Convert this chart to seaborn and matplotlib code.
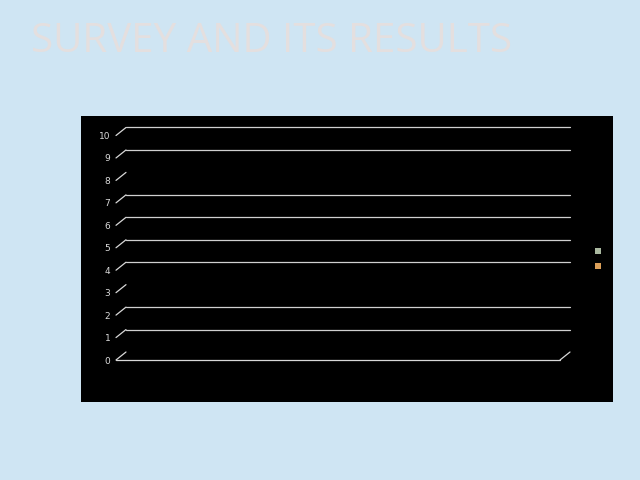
import numpy as np
import pandas as pd
import matplotlib
matplotlib.use("Agg")
import matplotlib.pyplot as plt
from matplotlib.patches import Rectangle
import seaborn as sns

# chart data (the slide's chart holds no values)
categories = ["Category 1", "Category 2", "Category 3"]
series_names = ["Series 1", "Series 2"]
series_1 = [0, 0, 0]
series_2 = [0, 0, 0]
y_ticks = [0, 1, 2, 3, 4, 5, 6, 7, 8, 9, 10]
visible_grid = [1, 2, 4, 5, 6, 7, 9, 10]

title = "SURVEY AND ITS RESULTS"
series_colors = ["#a9bd9c", "#f0a044"]

df = pd.DataFrame({
    "category": categories * 2,
    "series": [series_names[0]] * len(categories) + [series_names[1]] * len(categories),
    "value": series_1 + series_2,
})

sns.set_style("white")
plt.rcParams["font.family"] = ["DejaVu Sans"]

fig = plt.figure(figsize=(6.4, 4.8), dpi=100)
fig.patch.set_facecolor("#cfe5f3")

# black chart panel, kept behind the axes
fig.patches.append(Rectangle((81 / 640, 1 - 402 / 480), 532 / 640, 286 / 480,
                             transform=fig.transFigure, facecolor="black",
                             edgecolor="none", zorder=-10))

fig.text(31 / 640, 1 - 52 / 480, title, fontsize=29, color="#e4dfdf",
         family=["Open Sans", "DejaVu Sans"],
         ha="left", va="baseline")

ax = fig.add_axes([116 / 640, 120 / 480, 444 / 640, 224.5 / 480])
ax.set_facecolor("none")

sns.barplot(data=df, x="category", y="value", hue="series",
            palette=series_colors, linewidth=0, ax=ax)

ax.set_ylim(0, 10)
ax.set_yticks(y_ticks)
ax.set_xlabel("")
ax.set_ylabel("")
for s in ax.spines.values():
    s.set_visible(False)
ax.tick_params(axis="y", length=0, pad=4, labelsize=6.5, labelcolor="#dcdcdc")
ax.tick_params(axis="x", length=0, labelsize=6.5, labelcolor="black")

# depth offset of the back wall (10 px right, 8 px up)
dx = 10 / 444
dy = 8 / 22.45
tr = ax.get_yaxis_transform()
for v in y_ticks:
    ax.plot([0, dx], [v, v + dy], transform=tr, color="#d9d9d9", lw=0.9,
            clip_on=False)
for v in visible_grid:
    ax.plot([dx, 1 + dx], [v + dy, v + dy], transform=tr, color="#d0d0d0",
            lw=0.9, clip_on=False)
# floor front edge and right side
ax.plot([0, 1], [0, 0], transform=tr, color="#d9d9d9", lw=0.9, clip_on=False)
ax.plot([1, 1 + dx], [0, dy], transform=tr, color="#d9d9d9", lw=0.9,
        clip_on=False)

# legend keys only: the labels do not show on the slide
handles, _ = ax.get_legend_handles_labels()
leg = ax.legend(handles, ["", ""], loc="center left",
                bbox_to_anchor=(595 / 640, 1 - 259 / 480),
                bbox_transform=fig.transFigure, frameon=False, fontsize=5,
                handlelength=0.9, handleheight=0.9, handletextpad=0.4,
                labelspacing=1.25, borderpad=0, borderaxespad=0)

fig.savefig("out.png", dpi=100, facecolor=fig.get_facecolor())
